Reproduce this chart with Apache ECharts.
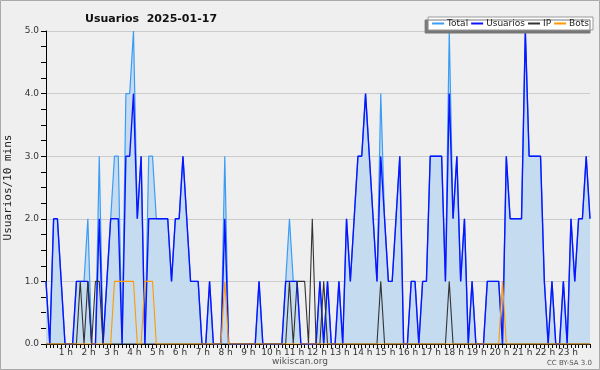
<!DOCTYPE html>
<html><head><meta charset="utf-8">
<script src="https://cdn.jsdelivr.net/npm/echarts@6/dist/echarts.min.js"></script>
<style>html,body{margin:0;padding:0;background:#efefef}#c{width:600px;height:370px}</style>
</head><body><div id="c"></div>
<script>
// 10-minute slots, 00:00 .. 23:50
const hourLabels = ['1 h','2 h','3 h','4 h','5 h','6 h','7 h','8 h','9 h','10 h','11 h','12 h','13 h','14 h','15 h','16 h','17 h','18 h','19 h','20 h','21 h','22 h','23 h'];
const yTicks = ['0.0','1.0','2.0','3.0','4.0','5.0'];

const total = [
1,0,2,2,1,0,0,0,1,1,
1,2,0,0,3,0,1,2,3,3,
0,4,4,5,2,3,0,3,3,2,
2,2,2,1,2,2,3,2,1,1,
1,0,0,1,0,0,0,3,0,0,
0,0,0,0,0,0,1,0,0,0,
0,0,0,1,2,1,1,0,0,0,
0,0,1,0,1,0,0,1,0,2,
1,2,3,3,4,3,2,1,4,2,
1,1,2,3,0,0,1,1,0,1,
1,3,3,3,3,1,5,2,3,1,
2,0,1,0,0,0,1,1,1,1,
0,3,2,2,2,2,5,3,3,3,
3,1,0,1,0,0,1,0,2,1,
2,2,3,2];
const usuarios = [
1,0,2,2,1,0,0,0,1,1,
1,1,0,0,2,0,1,2,2,2,
0,3,3,4,2,3,0,2,2,2,
2,2,2,1,2,2,3,2,1,1,
1,0,0,1,0,0,0,2,0,0,
0,0,0,0,0,0,1,0,0,0,
0,0,0,1,1,1,1,0,0,0,
0,0,1,0,1,0,0,1,0,2,
1,2,3,3,4,3,2,1,3,2,
1,1,2,3,0,0,1,1,0,1,
1,3,3,3,3,1,4,2,3,1,
2,0,1,0,0,0,1,1,1,1,
0,3,2,2,2,2,5,3,3,3,
3,1,0,1,0,0,1,0,2,1,
2,2,3,2];
const ip = [
0,0,0,0,0,0,0,0,0,1,
0,1,0,1,1,0,0,0,0,0,
0,0,0,0,0,0,0,0,0,0,
0,0,0,0,0,0,0,0,0,0,
0,0,0,0,0,0,0,0,0,0,
0,0,0,0,0,0,0,0,0,0,
0,0,0,0,1,0,1,1,1,0,
2,0,0,1,0,0,0,0,0,0,
0,0,0,0,0,0,0,0,1,0,
0,0,0,0,0,0,0,0,0,0,
0,0,0,0,0,0,1,0,0,0,
0,0,0,0,0,0,0,0,0,0,
0,0,0,0,0,0,0,0,0,0,
0,0,0,0,0,0,0,0,0,0,
0,0,0,0];
const bots = [
0,0,0,0,0,0,0,0,0,0,
0,0,0,0,0,0,0,0,1,1,
1,1,1,1,0,0,1,1,1,0,
0,0,0,0,0,0,0,0,0,0,
0,0,0,0,0,0,0,1,0,0,
0,0,0,0,0,0,0,0,0,0,
0,0,0,0,0,0,0,0,0,0,
0,0,0,0,0,0,0,0,0,0,
0,0,0,0,0,0,0,0,0,0,
0,0,0,0,0,0,0,0,0,0,
0,0,0,0,0,0,0,0,0,0,
0,0,0,0,0,0,0,0,0,0,
1,0,0,0,0,0,0,0,0,0,
0,0,0,0,0,0,0,0,0,0,
0,0,0,0];

const slots = [];
for (let h = 0; h < 24; h++) for (let m = 0; m < 60; m += 10)
  slots.push(String(h).padStart(2,'0') + ':' + String(m).padStart(2,'0'));

const chart = echarts.init(document.getElementById('c'), null, {renderer:'canvas'});
const F = 'DejaVu Sans';
chart.setOption({
  backgroundColor: '#efefef',
  animation: false,
  title: {text: 'Usuarios  2025-01-17', left: 80, top: 9,
    textStyle: {fontFamily: F, fontSize: 11, fontWeight: 'bold', color: '#111'}},
  legend: {
    right: 7, top: 17, itemWidth: 12, itemHeight: 2, icon: 'rect', itemGap: 3,
    backgroundColor: '#ffffff', borderColor: '#999', borderWidth: 1, borderRadius: 0,
    padding: [2, 4, 2, 4], shadowColor: '#777', shadowBlur: 0, shadowOffsetX: -3, shadowOffsetY: 3,
    textStyle: {fontFamily: F, fontSize: 9, color: '#222', padding: [0, 0, 0, -2]},
    data: ['Total', 'Usuarios', 'IP', 'Bots']
  },
  grid: {left: 46, right: 10, top: 31, bottom: 26, containLabel: false, outerBoundsMode: 'none'},
  xAxis: {
    type: 'category', data: slots, boundaryGap: false,
    axisLine: {lineStyle: {color: '#000', width: 1}},
    axisTick: {interval: 0, length: 4, lineStyle: {color: '#000'}},
    axisLabel: {interval: (i) => i > 0 && i % 6 === 0, formatter: (v, i) => hourLabels[i / 6 - 1],
      fontFamily: F, fontSize: 9, color: '#333', margin: 4, padding: [0, 6, 0, 0]},
    splitLine: {show: false}
  },
  yAxis: {
    type: 'value', min: 0, max: 5, interval: 1,
    name: 'Usuarios/10 mins', nameLocation: 'middle', nameGap: 29, nameRotate: 90,
    nameTextStyle: {fontFamily: 'DejaVu Sans Mono', fontSize: 11, color: '#222'},
    axisLine: {show: true, lineStyle: {color: '#000'}},
    axisTick: {show: true, length: 5, lineStyle: {color: '#000'}},
    minorTick: {show: true, splitNumber: 4, length: 5, lineStyle: {color: '#000'}},
    axisLabel: {formatter: (v) => yTicks[Math.round(v)], fontFamily: F, fontSize: 9, color: '#333', margin: 7},
    splitLine: {lineStyle: {color: '#cccccc'}}
  },
  series: [
    {name: 'Total', type: 'line', data: total, symbol: 'none', z: 1,
      itemStyle: {color: '#3a9cf4'}, lineStyle: {color: '#3a9cf4', width: 1.2},
      areaStyle: {color: '#c5dcf0', opacity: 1}},
    {name: 'Usuarios', type: 'line', data: usuarios, symbol: 'none', z: 2,
      itemStyle: {color: '#0a14ff'}, lineStyle: {color: '#0a14ff', width: 1.4}},
    {name: 'IP', type: 'line', data: ip, symbol: 'none', z: 3,
      itemStyle: {color: '#333333'}, lineStyle: {color: '#333333', width: 1.1}},
    {name: 'Bots', type: 'line', data: bots, symbol: 'none', z: 4,
      itemStyle: {color: '#ff9900'}, lineStyle: {color: '#ff9900', width: 1.1}}
  ],
  graphic: [
    {type: 'text', left: 'center', top: 357, style: {text: 'wikiscan.org', fontFamily: F, fontSize: 9, fill: '#555'}},
    {type: 'text', right: 8, top: 360, style: {text: 'CC BY-SA 3.0', fontFamily: F, fontSize: 7, fill: '#555'}},
    {type: 'rect', shape: {x: 0.5, y: 0.5, width: 599, height: 369}, style: {fill: 'none', stroke: '#aaaaaa', lineWidth: 1}, silent: true, z: 100}
  ]
});
</script></body></html>
